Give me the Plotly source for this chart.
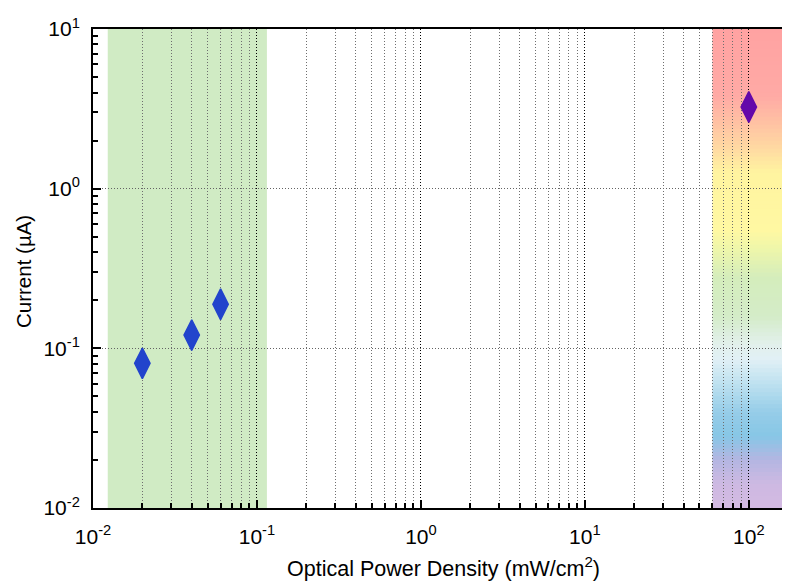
import numpy as np
import plotly.graph_objects as go

# Data
blue_x = [0.02, 0.04, 0.06]
blue_y = [0.0805, 0.121, 0.189]
purple_x = [100]
purple_y = [3.25]

green_band = [0.0123, 0.115]
rainbow_band = [60, 161]

x_tick_vals = [0.01, 0.1, 1, 10, 100]
x_tick_text = ["10<sup>-2</sup>", "10<sup>-1</sup>", "10<sup>0</sup>", "10<sup>1</sup>", "10<sup>2</sup>"]
y_tick_vals = [0.01, 0.1, 1, 10]
y_tick_text = ["10<sup>-2</sup>", "10<sup>-1</sup>", "10<sup>0</sup>", "10<sup>1</sup>"]

x_title = "Optical Power Density (mW/cm<sup>2</sup>)"
y_title = "Current (µA)"

# gradient colour stops (paper fraction from bottom, rgb)
rainbow_stops = [
    (0.00, (212, 186, 226)),
    (0.05, (205, 185, 226)),
    (0.10, (180, 182, 226)),
    (0.15, (135, 198, 230)),
    (0.20, (150, 205, 232)),
    (0.26, (190, 225, 240)),
    (0.31, (225, 240, 246)),
    (0.34, (226, 240, 236)),
    (0.40, (212, 236, 200)),
    (0.48, (212, 237, 188)),
    (0.54, (238, 246, 170)),
    (0.58, (255, 248, 162)),
    (0.70, (255, 244, 160)),
    (0.75, (255, 218, 162)),
    (0.80, (255, 195, 163)),
    (0.86, (255, 170, 165)),
    (1.00, (255, 162, 162)),
]

def interp_color(f):
    for (f0, c0), (f1, c1) in zip(rainbow_stops[:-1], rainbow_stops[1:]):
        if f0 <= f <= f1:
            t = (f - f0) / (f1 - f0) if f1 > f0 else 0
            c = [round(a + (b - a) * t) for a, b in zip(c0, c1)]
            return f"rgb({c[0]},{c[1]},{c[2]})"
    c = rainbow_stops[-1][1]
    return f"rgb({c[0]},{c[1]},{c[2]})"

shapes = [dict(type="rect", xref="x", yref="paper", x0=green_band[0], x1=green_band[1],
               y0=0, y1=1, fillcolor="rgb(208,235,196)", line=dict(width=0), layer="below")]
N = 120
for i in range(N):
    f0 = i / N
    f1 = (i + 1) / N
    shapes.append(dict(type="rect", xref="x", yref="paper", x0=rainbow_band[0], x1=rainbow_band[1],
                       y0=f0, y1=min(f1 + 0.002, 1), fillcolor=interp_color((f0 + f1) / 2),
                       line=dict(width=0), layer="below"))

fig = go.Figure()
fig.add_trace(go.Scatter(x=blue_x, y=blue_y, mode="markers",
                         marker=dict(symbol="diamond-tall", size=22, color="#2244cc",
                                     line=dict(width=1.5, color="#2244cc")),
                         showlegend=False))
fig.add_trace(go.Scatter(x=purple_x, y=purple_y, mode="markers",
                         marker=dict(symbol="diamond-tall", size=22, color="#6408aa",
                                     line=dict(width=1.5, color="#6408aa")),
                         showlegend=False))

minor_x = [m * 10.0 ** e for e in range(-2, 3) for m in range(2, 10)]
minor_y = [m * 10.0 ** e for e in range(-2, 1) for m in range(2, 10)]

font_family = "Liberation Sans, Arial, sans-serif"

fig.update_layout(
    width=790, height=583,
    margin=dict(l=85, r=0, t=21, b=83),
    plot_bgcolor="white", paper_bgcolor="white",
    shapes=shapes,
    font=dict(family=font_family, color="black"),
    xaxis=dict(
        type="log", range=[-2, 2.3], automargin=False,
        tickmode="array", tickvals=x_tick_vals, ticktext=x_tick_text,
        tickfont=dict(size=21, family=font_family, color="black"),
        ticks="inside", ticklen=8, tickwidth=2, tickcolor="black",
        showline=True, linecolor="black", linewidth=2, mirror=True,
        showgrid=True, gridcolor="black", griddash="1px,2px", gridwidth=1,
        ticklabelstandoff=9,
        minor=dict(tickmode="array", tickvals=minor_x, ticks="inside", ticklen=5,
                   tickwidth=1.5, tickcolor="black", showgrid=True,
                   gridcolor="rgb(110,110,110)", griddash="1px,2px", gridwidth=1),
        zeroline=False,
    ),
    yaxis=dict(
        type="log", range=[-2, 1], automargin=False,
        tickmode="array", tickvals=y_tick_vals, ticktext=y_tick_text,
        tickfont=dict(size=21, family=font_family, color="black"),
        ticks="inside", ticklen=8, tickwidth=2, tickcolor="black",
        showline=True, linecolor="black", linewidth=2, mirror=False,
        showgrid=True, gridcolor="rgb(100,100,100)", griddash="1px,2px", gridwidth=1,
        ticklabelstandoff=7,
        minor=dict(tickmode="array", tickvals=minor_y, ticks="inside", ticklen=5,
                   tickwidth=1.5, tickcolor="black", showgrid=False),
        zeroline=False,
    ),
    annotations=[
        dict(text=x_title, xref="paper", yref="paper", x=0.4965, y=0,
             xanchor="center", yanchor="middle", yshift=-59, showarrow=False,
             font=dict(size=21.5, family=font_family, color="black")),
        dict(text=y_title, xref="paper", yref="paper", x=0, y=0.4927,
             xanchor="center", yanchor="middle", xshift=-69, textangle=-90, showarrow=False,
             font=dict(size=20.5, family=font_family, color="black")),
    ],
)

fig.write_html("out.html")
